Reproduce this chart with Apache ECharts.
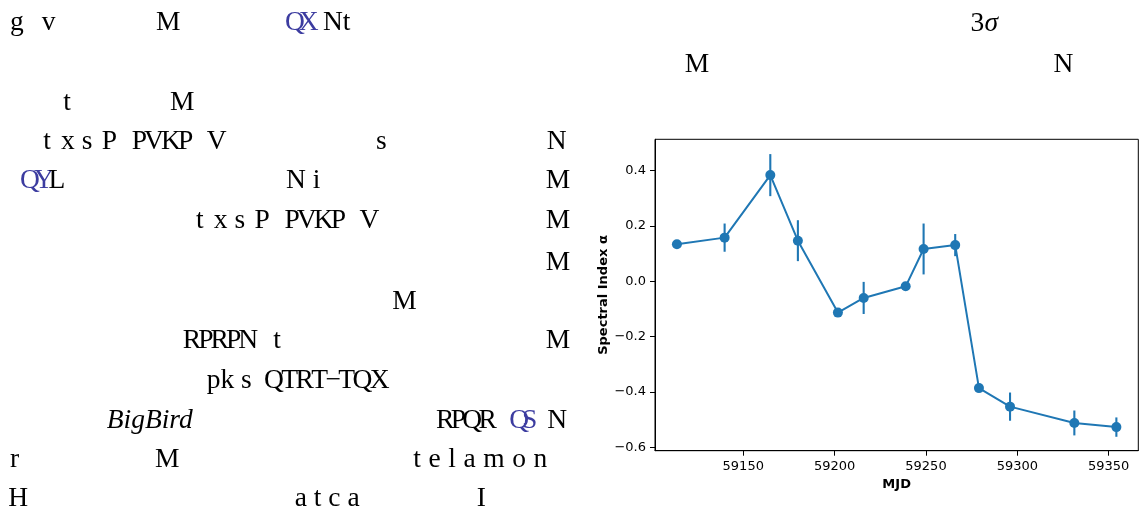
<!DOCTYPE html>
<html>
<head>
<meta charset="utf-8">
<script src="https://cdn.jsdelivr.net/npm/echarts@6/dist/echarts.min.js"></script>
<style>
  html, body { margin: 0; padding: 0; background: #fff; }
  #main { width: 1142px; height: 513px; }
</style>
</head>
<body>
<div id="main"></div>
<script>
// ---- chart data ----
const MJD = [59113.7, 59139.8, 59164.8, 59179.9, 59201.8, 59215.9, 59238.9, 59248.7, 59266.0, 59279.0, 59296.0, 59331.2, 59354.2];
const ALPHA = [0.134, 0.158, 0.384, 0.147, -0.113, -0.060, -0.018, 0.117, 0.131, -0.386, -0.453, -0.512, -0.527];
const ALPHA_ERR = [0.012, 0.051, 0.076, 0.074, 0.012, 0.058, 0.012, 0.092, 0.040, 0.012, 0.051, 0.045, 0.035];
const X_TICKS = [59150, 59200, 59250, 59300, 59350];
const Y_TICKS = [-0.6, -0.4, -0.2, 0.0, 0.2, 0.4];
const X_NAME = 'MJD';
const Y_NAME = 'Spectral Index α';

// ---- page text (serif fragments) ----
const BLUE = '#3c3ca0';
const measureCtx = document.createElement('canvas').getContext('2d');
function run(str, x, base, o) {
  o = o || {};
  const size = o.size || 27.5;
  const font = (o.italic ? 'italic ' : '') + size + 'px "Liberation Serif"';
  const fill = o.color || '#000';
  const ls = o.ls || 0;
  const y = base - 0.3375 * size;
  if (!ls) {
    return [{ type: 'text', x: x, y: y, silent: true,
      style: { text: str, font: font, fill: fill, align: 'left', verticalAlign: 'middle' } }];
  }
  measureCtx.font = font;
  let cx = x;
  const out = [];
  for (const ch of str) {
    out.push({ type: 'text', x: cx, y: y, silent: true,
      style: { text: ch, font: font, fill: fill, align: 'left', verticalAlign: 'middle' } });
    cx += measureCtx.measureText(ch).width + ls;
  }
  return out;
}

const texts = [].concat(
  // row 1
  run('g', 10, 31.7), run('v', 41.7, 31.7), run('M', 156, 31.7),
  run('QX', 285, 31.7, { color: BLUE, ls: -6 }), run('Nt', 323, 31.7),
  // row 2
  run('t', 63.3, 112.3), run('M', 170, 112.3),
  // row 3
  run('t', 43.3, 150.7), run('x', 61, 150.7), run('s', 81.7, 150.7), run('P', 101.7, 150.7),
  run('PVKP', 131.7, 150.7, { ls: -2.9 }), run('V', 206.7, 150.7),
  run('s', 376, 150.7), run('N', 546.7, 150.7),
  // row 4
  run('QY', 20, 190, { color: BLUE, ls: -5.8 }), run('L', 48.5, 190),
  run('N i', 286, 190), run('M', 545.7, 190),
  // row 5
  run('t', 196, 230), run('x', 213.7, 230), run('s', 234.4, 230), run('P', 254.4, 230),
  run('PVKP', 284.4, 230, { ls: -2.9 }), run('V', 359.4, 230), run('M', 545.7, 230),
  // row 6, 7
  run('M', 545.7, 271.7),
  run('M', 392.3, 311),
  // row 8
  run('RPRPN', 182.7, 350, { ls: -2.9 }), run('t', 273.3, 350), run('M', 545.7, 350),
  // row 9
  run('pk s', 206.7, 390), run('QTRT−TQX', 264, 390, { ls: -2.6 }),
  // row 10
  run('BigBird', 106.7, 430, { italic: true }),
  run('RPQR', 436, 430, { ls: -3.7 }), run('QS', 509.3, 430, { color: BLUE, ls: -7.2 }), run('N', 547.3, 430),
  // row 11
  run('r', 10, 469.3), run('M', 155, 469.3), run('t e l a m o n', 413.3, 469.3, { ls: 0.35 }),
  // row 12
  run('H', 8.3, 508.3), run('a t c a', 294.7, 508.3), run('I', 476.7, 508.3),
  // top right
  run('3', 970.5, 32.8), run('σ', 984.5, 32.8, { italic: true }),
  run('M', 684.7, 73.6), run('N', 1053.5, 73.6)
);

// ---- chart ----
const chart = echarts.init(document.getElementById('main'), null, { renderer: 'canvas' });
const pts = MJD.map((m, i) => [m, ALPHA[i]]);
const errPts = MJD.map((m, i) => [m, ALPHA[i], ALPHA_ERR[i]]);
const C = '#1f77b4';
const tickFont = { color: '#000', fontSize: 13, fontFamily: 'DejaVu Sans' };

chart.setOption({
  animation: false,
  backgroundColor: '#fff',
  graphic: texts,
  grid: { left: 655, top: 139.3, width: 483.3, height: 311.4, show: true, borderColor: '#000', borderWidth: 1, backgroundColor: 'transparent' },
  xAxis: {
    type: 'value', min: 59101.7, max: 59366.2,
    name: X_NAME, nameLocation: 'middle', nameGap: 27,
    nameTextStyle: { color: '#000', fontSize: 13, fontWeight: 'bold', fontFamily: 'DejaVu Sans' },
    axisLine: { show: true, onZero: false, lineStyle: { color: '#000', width: 1 } },
    axisTick: { show: true, length: 5, lineStyle: { color: '#000', width: 1 }, customValues: X_TICKS },
    axisLabel: Object.assign({ margin: 9, customValues: X_TICKS, formatter: v => String(Math.round(v)) }, tickFont),
    splitLine: { show: false }
  },
  yAxis: {
    type: 'value', min: -0.6123, max: 0.5135,
    name: Y_NAME, nameLocation: 'middle', nameGap: 44, nameRotate: 90,
    nameTextStyle: { color: '#000', fontSize: 13, fontWeight: 'bold', fontFamily: 'DejaVu Sans' },
    axisLine: { show: true, onZero: false, lineStyle: { color: '#000', width: 1 } },
    axisTick: { show: true, length: 5, lineStyle: { color: '#000', width: 1 }, customValues: Y_TICKS },
    axisLabel: Object.assign({ margin: 9, customValues: Y_TICKS,
      formatter: v => (v < -1e-9 ? '−' : '') + Math.abs(v).toFixed(1) }, tickFont),
    splitLine: { show: false }
  },
  series: [
    {
      type: 'custom',
      data: errPts,
      encode: { x: 0, y: 1 },
      z: 2,
      renderItem: function (params, api) {
        const x = api.value(0), y = api.value(1), e = api.value(2);
        const p1 = api.coord([x, y - e]);
        const p2 = api.coord([x, y + e]);
        return { type: 'line', shape: { x1: p1[0], y1: p1[1], x2: p2[0], y2: p2[1] },
          style: { stroke: C, lineWidth: 2.1 } };
      }
    },
    {
      type: 'line',
      data: pts,
      z: 3,
      symbol: 'circle',
      symbolSize: 10,
      showSymbol: true,
      lineStyle: { color: C, width: 2 },
      itemStyle: { color: C, borderWidth: 0 },
      emphasis: { disabled: true }
    }
  ]
});
</script>
</body>
</html>
